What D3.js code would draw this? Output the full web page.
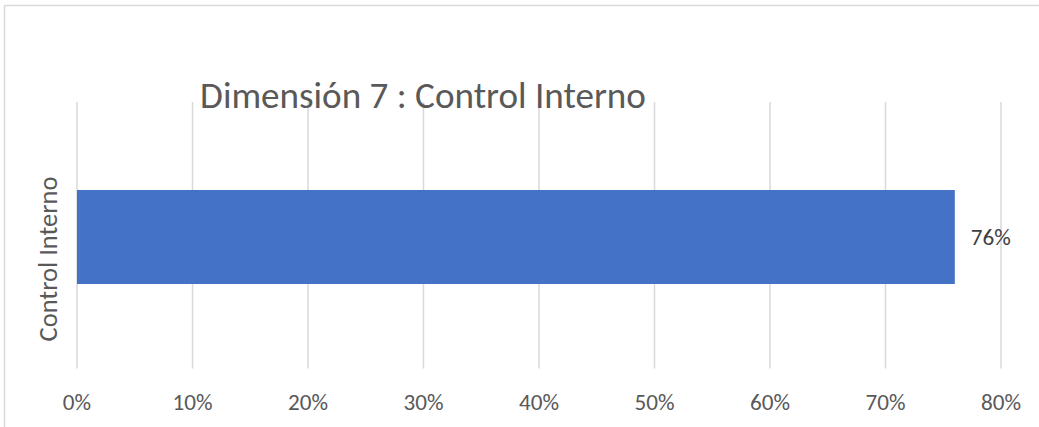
<!DOCTYPE html>
<html>
<head>
<meta charset="utf-8">
<script src="https://cdn.jsdelivr.net/npm/d3@7"></script>
<style>
  html, body { margin: 0; padding: 0; background: #fff; }
  svg { display: block; font-family: Calibri, Carlito, "Open Sans", sans-serif; }
</style>
</head>
<body>
<svg id="chart" width="1039" height="427"></svg>
<script>
const title = "Dimensión 7 : Control Interno";
const categories = ["Control Interno"];
const values = [0.76];
const tickValues = [0, 0.1, 0.2, 0.3, 0.4, 0.5, 0.6, 0.7, 0.8];

const svg = d3.select("#chart");
const W = 1039, H = 427;
const margin = { left: 77, right: 38, top: 102, bottom: 58 };

// fit a text element's font size to a target width
function fitWidth(sel, base, target) {
    const len = sel.node().getComputedTextLength();
    sel.attr("font-size", base * target / len);
    return base * target / len;
}

// outer frame (only top and left edges visible in the crop)
svg.append("line").attr("x1", 4.5).attr("x2", W).attr("y1", 5.5).attr("y2", 5.5)
    .attr("stroke", "#d9d9d9").attr("stroke-width", 1.5);
svg.append("line").attr("x1", 4.5).attr("x2", 4.5).attr("y1", 5.5).attr("y2", H)
    .attr("stroke", "#d9d9d9").attr("stroke-width", 1.5);

const x = d3.scaleLinear().domain([0, 0.8]).range([margin.left, W - margin.right]);
const y = d3.scaleBand().domain(categories).range([margin.top, H - margin.bottom]).paddingInner(0).paddingOuter(0.92);
const barShift = 1.5;

// gridlines
svg.append("g").selectAll("line").data(tickValues).enter().append("line")
    .attr("x1", (d) => x(d)).attr("x2", (d) => x(d))
    .attr("y1", margin.top).attr("y2", H - margin.bottom - 0.5)
    .attr("stroke", "#d9d9d9").attr("stroke-width", 1.5);

// bars
svg.append("g").selectAll("rect").data(values).enter().append("rect")
    .attr("x", x(0)).attr("y", (d, i) => y(categories[i]) + barShift)
    .attr("width", (d) => x(d) - x(0)).attr("height", y.bandwidth())
    .attr("fill", "#4472c4");

// x tick labels
const ticks = svg.append("g").selectAll("text").data(tickValues).enter().append("text")
    .attr("x", (d) => x(d)).attr("y", 402).attr("dy", "0.35em")
    .attr("text-anchor", "middle").attr("font-size", 20).attr("fill", "#595959")
    .text((d) => d3.format(".0%")(d));
const tickSize = fitWidth(d3.select(ticks.nodes()[1]), 20, 40);
ticks.attr("font-size", tickSize);

// data labels
svg.append("g").selectAll("text").data(values).enter().append("text")
    .attr("x", (d) => x(d) + 16).attr("y", (d, i) => y(categories[i]) + y.bandwidth() / 2 + barShift)
    .attr("dy", "0.35em").attr("font-size", tickSize).attr("fill", "#404040")
    .text((d) => d3.format(".0%")(d));

// category label
const cat = svg.append("g").selectAll("text").data(categories).enter().append("text")
    .attr("transform", "translate(48,259) rotate(-90)")
    .attr("dy", "0.35em").attr("text-anchor", "middle")
    .attr("font-size", 19).attr("fill", "#595959")
    .text((d) => d);
fitWidth(cat, 19, 165);

// title
const t = svg.append("text")
    .attr("x", 423).attr("y", 95).attr("dy", "0.35em")
    .attr("text-anchor", "middle").attr("font-size", 31).attr("fill", "#595959")
    .text(title);
fitWidth(t, 31, 446);
</script>
</body>
</html>
